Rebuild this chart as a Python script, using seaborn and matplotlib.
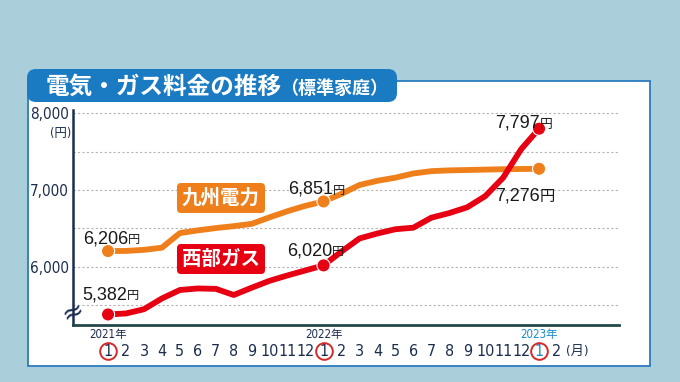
import matplotlib
matplotlib.use("Agg")
import matplotlib.pyplot as plt
import seaborn as sns
import pandas as pd
from matplotlib import font_manager
from matplotlib.patches import FancyBboxPatch, Rectangle
from matplotlib.transforms import IdentityTransform

# ---------------- data ----------------
month_labels = ["1", "2", "3", "4", "5", "6", "7", "8", "9", "10", "11", "12",
                "1", "2", "3", "4", "5", "6", "7", "8", "9", "10", "11", "12",
                "1", "2"]
year_labels = ["2021年", "2022年", "2023年"]
year_pos = [0, 12, 24]
series_names = ["九州電力", "西部ガス"]
kyushu = [6206, 6208, 6222, 6250, 6440, 6475, 6505, 6530, 6560, 6645, 6725, 6795,
          6851, 6950, 7065, 7120, 7160, 7215, 7245, 7255, 7260, 7265, 7270, 7273,
          7276]
seibu = [5382, 5395, 5450, 5590, 5700, 5720, 5715, 5635, 5730, 5820, 5890, 5955,
         6020, 6200, 6370, 6435, 6490, 6510, 6640, 6700, 6775, 6920, 7160, 7530,
         7797]
highlight_idx = [0, 12, 24]
kyushu_labels = ["6,206", "6,851", "7,276"]
seibu_labels = ["5,382", "6,020", "7,797"]
ytick_vals = [6000, 7000, 8000]
ytick_labels = ["6,000", "7,000", "8,000"]
title_main = "電気・ガス料金の推移"
title_sub = "（標準家庭）"

# ---------------- style ----------------
sns.set_theme(style="white")
avail = {f.name for f in font_manager.fontManager.ttflist}
CJK = "Noto Sans CJK JP"
if "Liberation Sans Narrow" in avail:
    NARROW = ["Liberation Sans Narrow", CJK]
    nstretch = "normal"
elif "DejaVu Sans Condensed" in avail:
    NARROW = ["DejaVu Sans Condensed", CJK]
    nstretch = "condensed"
else:
    NARROW = ["DejaVu Sans", CJK]
    nstretch = "condensed"
REG = ["Liberation Sans", CJK, "DejaVu Sans"]
plt.rcParams["font.family"] = [CJK, "DejaVu Sans"]

ORANGE = "#ef7f1a"
RED = "#e60012"
NAVY = "#1b2d4f"
BLUE_TAB = "#1a7bc3"
BG = "#aacfdb"

W, H = 680, 382
pix = IdentityTransform()

fig = plt.figure(figsize=(6.8, 3.82), dpi=100)
fig.patch.set_facecolor(BG)

# white panel and title tab
fig.patches.append(Rectangle((28, H - 366), 622, 285, transform=pix,
                             facecolor="white", edgecolor="#2b7bbf", lw=1.3, zorder=-3))
fig.patches.append(FancyBboxPatch((27, H - 102), 370, 33,
                                  boxstyle="round,pad=0,rounding_size=9",
                                  transform=pix, facecolor=BLUE_TAB,
                                  edgecolor="none", zorder=-2))
fig.text(46, H - 87, title_main, transform=pix, color="white", fontsize=17,
         fontweight="bold", family=[CJK], ha="left", va="center")
fig.text(280, H - 88, title_sub, transform=pix, color="white", fontsize=13,
         fontweight="bold", family=[CJK], ha="left", va="center")

# ---------------- axes ----------------
ax = fig.add_axes([73 / W, 1 - 325 / H, (619 - 73) / W, (325 - 110) / H])
ax.set_facecolor("none")
ax.set_zorder(1)

n = len(kyushu)
df = pd.DataFrame({
    "idx": list(range(n)) * 2,
    "value": kyushu + seibu,
    "series": [series_names[0]] * n + [series_names[1]] * n,
})
pal = {series_names[0]: ORANGE, series_names[1]: RED}
sns.lineplot(data=df, x="idx", y="value", hue="series", palette=pal,
             linewidth=4.2, legend=False, ax=ax, zorder=3)
for ln in ax.lines:
    ln.set_solid_capstyle("round")
    ln.set_solid_joinstyle("round")
hl = df[df["idx"].isin(highlight_idx)]
sns.scatterplot(data=hl, x="idx", y="value", hue="series", palette=pal, s=90,
                edgecolor="white", linewidth=0.8, legend=False, ax=ax, zorder=5)

ax.set_xlim(-1.95, 28.45)
ax.set_ylim(5245, 8040)
ax.set_xlabel("")
ax.set_ylabel("")

ax.set_yticks(ytick_vals)
ax.set_yticklabels(ytick_labels)
ax.set_yticks([5500, 6500, 7500], minor=True)
ax.grid(True, which="both", axis="y", ls=(0, (2, 2)), color="#b5b5b5", lw=0.8)
ax.grid(False, axis="x")
ax.tick_params(axis="y", which="both", length=0, pad=3, labelsize=11,
               labelcolor=NAVY)
for t in ax.get_yticklabels():
    t.set_fontfamily(NARROW)
    t.set_fontstretch(nstretch)

ax.set_xticks(range(len(month_labels)))
ax.set_xticklabels(month_labels)
ax.tick_params(axis="x", length=0, pad=14, labelsize=11.5, labelcolor=NAVY)
for t in ax.get_xticklabels():
    t.set_fontfamily(NARROW)
    t.set_fontstretch(nstretch)
ax.get_xticklabels()[24].set_color("#1a8ccc")

for side in ["top", "right"]:
    ax.spines[side].set_visible(False)
ax.spines["left"].set_color(NAVY)
ax.spines["left"].set_linewidth(1.8)
ax.spines["bottom"].set_color("#24484a")
ax.spines["bottom"].set_linewidth(2.0)

xt = ax.get_xaxis_transform()
ax.plot(year_pos, [-0.123] * 3, transform=xt, marker="o", ls="none", ms=12,
        mfc="none", mec="#d42a2a", mew=1.4, clip_on=False)
for p, lab in zip(year_pos, year_labels):
    ax.text(p, -0.046, lab, transform=xt, ha="center", va="center",
            fontsize=8.3, family=NARROW, fontstretch=nstretch,
            color="#1a8ccc" if lab.startswith("2023") else NAVY)
ax.text(26.15, -0.125, "(月)", transform=xt, ha="center", va="center",
        fontsize=9.5, family=NARROW, fontstretch=nstretch, color=NAVY)

fig.text(61, H - 133, "(円)", transform=pix, ha="center", va="center",
         fontsize=9, family=NARROW, fontstretch=nstretch, color=NAVY)
fig.text(73, H - 312, "≈", transform=pix, ha="center", va="center",
         fontsize=19, rotation=25, color=NAVY, family=["DejaVu Sans"], zorder=4)

# series name boxes
for name, col, ytop in [(series_names[0], ORANGE, 183), (series_names[1], RED, 244)]:
    fig.patches.append(FancyBboxPatch((177, H - ytop - 30), 88, 30,
                                      boxstyle="round,pad=0,rounding_size=4",
                                      transform=pix, facecolor=col,
                                      edgecolor="none", zorder=6))
    fig.text(221, H - ytop - 15, name, transform=pix, ha="center", va="center",
             color="white", fontsize=14, fontweight="bold", family=[CJK],
             zorder=7)

# value annotations: (label, right edge x, baseline y, yen size)
ann = [
    (kyushu_labels[0], 128, 243, 8.8),
    (kyushu_labels[1], 333, 194, 8.8),
    (kyushu_labels[2], 540, 200.5, 11),
    (seibu_labels[0], 127, 299, 8.8),
    (seibu_labels[1], 332, 255, 8.8),
    (seibu_labels[2], 540, 128, 9.2),
]
for lab, xr, yb, ysz in ann:
    fig.text(xr, H - yb, lab, transform=pix, ha="right", va="baseline",
             fontsize=13, family=REG, color="#1a1a1a", zorder=8)
    fig.text(xr, H - yb, "円", transform=pix, ha="left", va="baseline",
             fontsize=ysz, family=[CJK], color="#1a1a1a", zorder=8)

fig.savefig("out.png", dpi=100, facecolor=BG)
